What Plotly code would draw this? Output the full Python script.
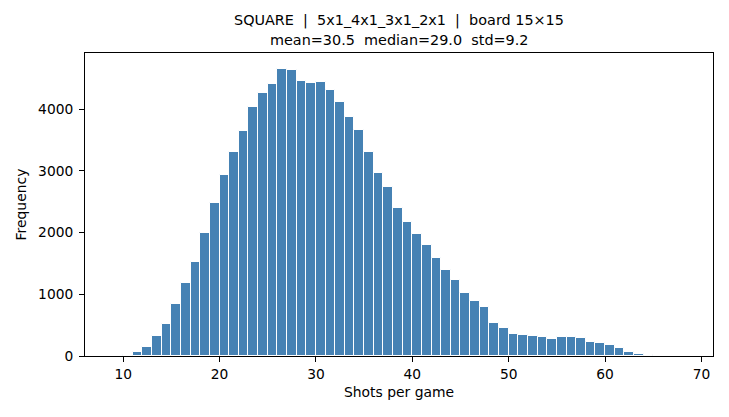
import plotly.graph_objects as go

# histogram of shots per game (bin left edges, counts)
shots = list(range(10, 65))
counts = [15, 60, 150, 330, 515, 840, 1175, 1530, 2000, 2475,
          2930, 3300, 3645, 4035, 4255, 4405, 4650, 4635, 4450, 4420,
          4435, 4315, 4115, 3875, 3660, 3305, 2960, 2730, 2390, 2170,
          1975, 1795, 1580, 1395, 1230, 1018, 888, 801, 531, 450,
          363, 347, 331, 311, 276, 311, 311, 293, 228, 206,
          173, 125, 60, 38, 11]

x_ticks = [10, 20, 30, 40, 50, 60, 70]
y_ticks = [0, 1000, 2000, 3000, 4000]

title_1 = "SQUARE  |  5x1_4x1_3x1_2x1  |  board 15×15"
title_2 = "mean=30.5  median=29.0  std=9.2"

FONT = "DejaVu Sans"

fig = go.Figure()
fig.add_trace(go.Bar(
    x=shots, y=counts, width=1, offset=0,
    marker=dict(color="#4682B4", line=dict(color="white", width=1)),
))

axis_common = dict(
    showline=True, linecolor="black", linewidth=1, mirror=True,
    ticks="outside", ticklen=5, tickcolor="black", tickwidth=1,
    showgrid=False, zeroline=False,
    tickfont=dict(family=FONT, size=13.8, color="black"),
)

fig.update_xaxes(range=[6.04, 71.2], tickvals=x_ticks,
                 title=dict(text="Shots per game", standoff=6,
                            font=dict(family=FONT, size=13.9, color="black")),
                 **axis_common)
fig.update_yaxes(range=[0, 4908], tickvals=y_ticks, ticklabelstandoff=3,
                 title=dict(text="Frequency", standoff=8,
                            font=dict(family=FONT, size=13.9, color="black")),
                 **axis_common)

fig.add_annotation(text=title_1, xref="paper", yref="paper", x=0.5, y=1.106,
                   yanchor="middle", showarrow=False,
                   font=dict(family=FONT, size=14.4, color="black"))
fig.add_annotation(text=title_2, xref="paper", yref="paper", x=0.5, y=1.043,
                   yanchor="middle", showarrow=False,
                   font=dict(family=FONT, size=14.4, color="black"))

# page body adds an 8px offset, so the figure is a bit smaller than the window
fig.update_layout(
    width=721, height=409,
    margin=dict(l=75, r=16, t=45, b=61),
    bargap=0, showlegend=False,
    plot_bgcolor="white", paper_bgcolor="white",
    font=dict(family=FONT, color="black"),
)

fig.write_html("out.html")
